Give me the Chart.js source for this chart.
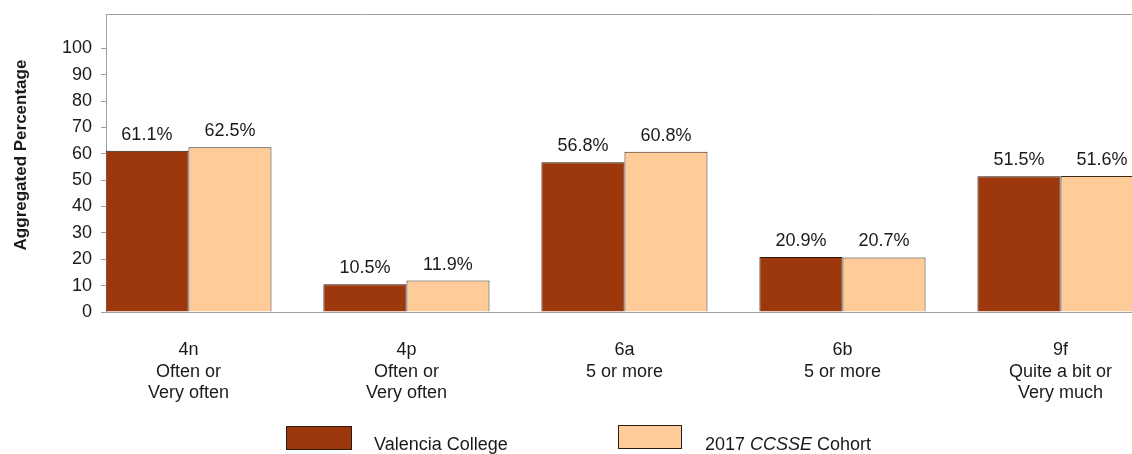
<!DOCTYPE html>
<html>
<head>
<meta charset="utf-8">
<script src="https://cdn.jsdelivr.net/npm/chart.js@4/dist/chart.umd.min.js"></script>
<style>
  body { margin: 0; background: #fff; }
  canvas { display: block; }
</style>
</head>
<body>
<canvas id="myChart" width="1132" height="454"></canvas>
<script>
// chart data
const categories = [
  ['4n', 'Often or', 'Very often'],
  ['4p', 'Often or', 'Very often'],
  ['6a', '5 or more'],
  ['6b', '5 or more'],
  ['9f', 'Quite a bit or', 'Very much']
];
const valencia = [61.1, 10.5, 56.8, 20.9, 51.5];
const cohort = [62.5, 11.9, 60.8, 20.7, 51.6];
const yTicks = [0, 10, 20, 30, 40, 50, 60, 70, 80, 90, 100];

const FONT = "'Liberation Sans', Arial, sans-serif";
const TEXT = '#1a1a1a';
const AXIS = '#a0a0a0';

function toPoints(arr) {
  return arr.map((v, i) => ({ x: i, y: v }));
}

// value labels above bars, y title, top border, legend
const extras = {
  id: 'extras',
  afterDatasetsDraw(chart) {
    const ctx = chart.ctx;
    ctx.save();
    ctx.font = '18px ' + FONT;
    ctx.fillStyle = TEXT;
    ctx.textAlign = 'center';
    ctx.textBaseline = 'alphabetic';
    chart.data.datasets.forEach((ds, d) => {
      chart.getDatasetMeta(d).data.forEach((bar, i) => {
        ctx.fillText(ds.data[i].y.toFixed(1) + '%', bar.x, bar.y - 11);
      });
    });
    ctx.restore();
  },
  afterDraw(chart) {
    const ctx = chart.ctx;
    const area = chart.chartArea;
    ctx.save();
    // top border of plot
    ctx.strokeStyle = AXIS;
    ctx.lineWidth = 1;
    ctx.beginPath();
    ctx.moveTo(area.left, area.top + 0.5);
    ctx.lineTo(area.right, area.top + 0.5);
    ctx.stroke();

    // y axis title
    ctx.translate(21, 155);
    ctx.rotate(-Math.PI / 2);
    ctx.font = 'bold 17px ' + FONT;
    ctx.fillStyle = TEXT;
    ctx.textAlign = 'center';
    ctx.textBaseline = 'middle';
    ctx.fillText('Aggregated Percentage', 0, 0);
    ctx.restore();

    // legend
    ctx.save();
    ctx.lineWidth = 1;
    ctx.strokeStyle = '#2a1a10';
    ctx.fillStyle = chart.data.datasets[0].backgroundColor;
    ctx.fillRect(286, 426, 66, 24);
    ctx.strokeRect(286.5, 426.5, 65, 23);
    ctx.fillStyle = chart.data.datasets[1].backgroundColor;
    ctx.fillRect(618, 425, 64, 24);
    ctx.strokeRect(618.5, 425.5, 63, 23);

    ctx.fillStyle = TEXT;
    ctx.textBaseline = 'alphabetic';
    ctx.font = '18px ' + FONT;
    ctx.fillText('Valencia College', 374, 450);
    let x = 705;
    ctx.fillText('2017 ', x, 450);
    x += ctx.measureText('2017 ').width;
    ctx.font = 'italic 18px ' + FONT;
    ctx.fillText('CCSSE', x, 450);
    x += ctx.measureText('CCSSE').width;
    ctx.font = '18px ' + FONT;
    ctx.fillText(' Cohort', x, 450);
    ctx.restore();
  }
};

new Chart(document.getElementById('myChart'), {
  type: 'bar',
  data: {
    datasets: [{
      label: 'Valencia College',
      data: toPoints(valencia),
      backgroundColor: '#9c380c',
      borderColor: '#2a1a10',
      borderWidth: 1
    }, {
      label: '2017 CCSSE Cohort',
      data: toPoints(cohort),
      backgroundColor: '#ffcc99',
      borderColor: '#3a2a1c',
      borderWidth: 1
    }]
  },
  options: {
    responsive: false,
    animation: false,
    categoryPercentage: 0.762,
    barPercentage: 1,
    layout: { padding: { top: 14, left: 0, right: 0, bottom: 0 } },
    plugins: {
      legend: { display: false },
      tooltip: { enabled: false }
    },
    scales: {
      x: {
        type: 'linear',
        offset: false,
        min: -0.378,
        max: 4.328,
        afterBuildTicks: (scale) => {
          scale.ticks = categories.map((c, i) => ({ value: i }));
        },
        afterFit: (scale) => {
          scale.height = 142;
          scale.paddingLeft = 0;
          scale.paddingRight = 0;
        },
        grid: { display: false, offset: false },
        border: { display: true, color: AXIS, width: 1 },
        ticks: {
          autoSkip: false,
          maxRotation: 0,
          padding: 20,
          color: TEXT,
          font: { family: FONT, size: 18, lineHeight: 1.17 },
          callback: (value) => categories[value]
        }
      },
      y: {
        min: 0,
        max: 113,
        afterBuildTicks: (scale) => {
          scale.ticks = yTicks.map(v => ({ value: v }));
        },
        afterFit: (scale) => {
          scale.width = 106;
          scale.paddingTop = 0;
          scale.paddingBottom = 0;
        },
        grid: { drawOnChartArea: false, color: AXIS, tickLength: 5 },
        border: { display: true, color: AXIS, width: 1 },
        ticks: {
          padding: 9,
          color: TEXT,
          font: { family: FONT, size: 18 }
        }
      }
    }
  },
  plugins: [extras]
});
</script>
</body>
</html>
